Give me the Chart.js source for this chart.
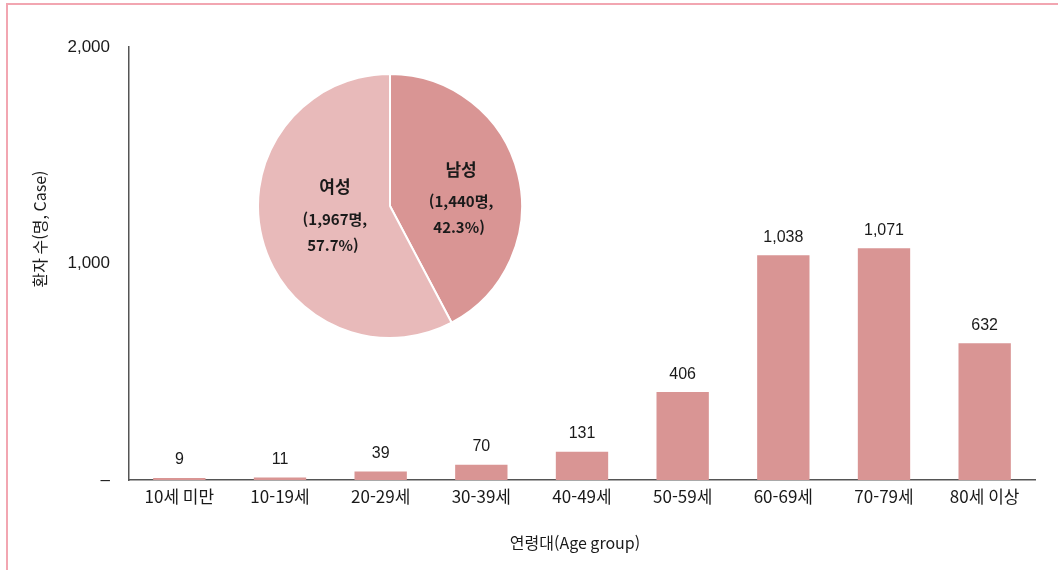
<!DOCTYPE html>
<html lang="ko">
<head>
<meta charset="utf-8">
<title>연령대별 환자 수</title>
<script src="https://cdn.jsdelivr.net/npm/chart.js@4.4.1/dist/chart.umd.min.js"></script>
<style>
  html, body { margin: 0; padding: 0; background: #fff; }
  #wrap { position: relative; width: 1058px; height: 570px; overflow: hidden; }
  #frame {
    position: absolute; left: 6px; top: 3px; right: -4px; bottom: -4px;
    border-top: 2px solid #f2a6b1; border-left: 2px solid #f2a6b1;
    pointer-events: none;
  }
  #barChart { position: absolute; left: 0; top: 0; }
  #pieChart { position: absolute; left: 257px; top: 73px; }
</style>
</head>
<body>
<div id="wrap">
  <canvas id="barChart" width="1058" height="570"></canvas>
  <canvas id="pieChart" width="266" height="266"></canvas>
  <div id="frame"></div>
</div>
<script>
// age groups and patient counts
const ageGroups = ['10세 미만', '10-19세', '20-29세', '30-39세', '40-49세', '50-59세', '60-69세', '70-79세', '80세 이상'];
const patientCounts = [9, 11, 39, 70, 131, 406, 1038, 1071, 632];
const yTicks = [0, 1000, 2000];

// sex split (pie)
const sexLabels = ['남성', '여성'];
const sexCounts = [1440, 1967];
const sexColors = ['#d99594', '#e8baba'];

const BAR_COLOR = '#d99594';
const TEXT = '#1a1a1a';
const FONT = '"Liberation Sans", "Noto Sans CJK KR", sans-serif';
const KFONT = '"Noto Sans CJK KR", "Liberation Sans", sans-serif';

const fmt = n => n.toLocaleString('en-US');

// value labels above each bar, plus the two axis titles
const barDecor = {
    id: 'barDecor',
    afterDatasetsDraw(chart) {
        const ctx = chart.ctx;
        const meta = chart.getDatasetMeta(0);
        ctx.save();
        ctx.font = '16px ' + FONT;
        ctx.fillStyle = TEXT;
        ctx.textAlign = 'center';
        ctx.textBaseline = 'middle';
        meta.data.forEach((bar, i) => {
            ctx.fillText(fmt(patientCounts[i]), bar.x, bar.y - 18);
        });

        ctx.font = '16px ' + KFONT;
        ctx.fillText('연령대(Age group)', 575, 543);

        ctx.translate(40, 229);
        ctx.rotate(-Math.PI / 2);
        ctx.fillText('환자 수(명, Case)', 0, 0);
        ctx.restore();
    }
};

new Chart(document.getElementById('barChart'), {
    type: 'bar',
    data: {
        labels: ageGroups,
        datasets: [{
            data: patientCounts,
            backgroundColor: BAR_COLOR,
            borderWidth: 0,
            barPercentage: 0.52,
            categoryPercentage: 1
        }]
    },
    options: {
        responsive: false,
        animation: false,
        layout: { padding: { left: 0, right: 23, top: 47, bottom: 0 } },
        plugins: { legend: { display: false }, tooltip: { enabled: false } },
        scales: {
            x: {
                grid: { display: false, drawTicks: false },
                border: { display: true, color: '#555', width: 1.5 },
                ticks: { color: TEXT, font: { family: KFONT, size: 17 }, padding: 6, maxRotation: 0 },
                afterFit(scale) { scale.height = 90; }
            },
            y: {
                min: 0, max: 2000,
                grid: { display: false, drawTicks: false },
                border: { display: true, color: '#555', width: 1.5 },
                afterBuildTicks(scale) { scale.ticks = yTicks.map(v => ({ value: v })); },
                ticks: {
                    color: TEXT, font: { family: FONT, size: 17 }, padding: 19,
                    callback: v => v === 0 ? '–' : fmt(v)
                },
                afterFit(scale) { scale.width = 129; }
            }
        }
    },
    plugins: [barDecor]
});

// labels inside the pie slices, nudged from each slice's centroid
const total = sexCounts.reduce((a, b) => a + b, 0);
const pieNudge = [[7, 10], [9, -4]];
const pieLabels = {
    id: 'pieLabels',
    afterDatasetsDraw(chart) {
        const ctx = chart.ctx;
        const meta = chart.getDatasetMeta(0);
        ctx.save();
        ctx.fillStyle = TEXT;
        ctx.textAlign = 'center';
        ctx.textBaseline = 'middle';
        meta.data.forEach((arc, i) => {
            const p = arc.tooltipPosition();
            const x = p.x + pieNudge[i][0];
            const y = p.y + pieNudge[i][1];
            const pct = (sexCounts[i] / total * 100).toFixed(1);
            ctx.font = 'bold 17px ' + KFONT;
            ctx.fillText(sexLabels[i], x, y - 31);
            ctx.font = 'bold 15px ' + KFONT;
            ctx.fillText('(' + fmt(sexCounts[i]) + '명,', x, y + 1);
            ctx.fillText(pct + '%)', x - 2, y + 27);
        });
        ctx.restore();
    }
};

new Chart(document.getElementById('pieChart'), {
    type: 'pie',
    data: {
        labels: sexLabels,
        datasets: [{
            data: sexCounts,
            backgroundColor: sexColors,
            borderColor: '#fff',
            borderWidth: 2
        }]
    },
    options: {
        responsive: false,
        animation: false,
        layout: { padding: 0 },
        plugins: { legend: { display: false }, tooltip: { enabled: false } }
    },
    plugins: [pieLabels]
});
</script>
</body>
</html>
